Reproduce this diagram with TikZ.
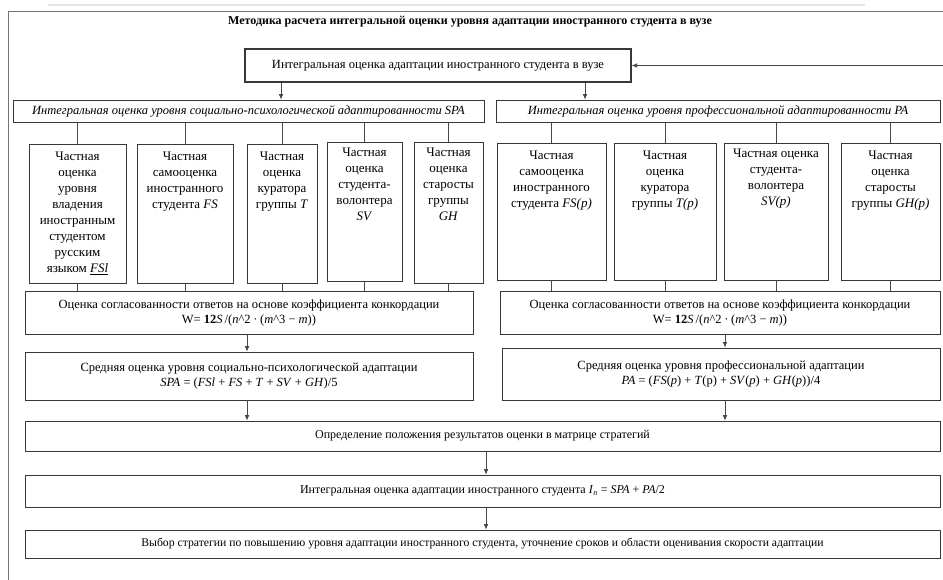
\documentclass[tikz,border=0pt]{standalone}
\usepackage{fontspec}
\setmainfont{Liberation Serif}
\usetikzlibrary{arrows.meta}
\newcommand{\myfs}{\fontsize{12}{15}\selectfont}
\newcommand{\mymid}{\fontsize{12.5}{15}\selectfont}
\newcommand{\mysub}{\fontsize{13}{16}\selectfont}
\begin{document}
\begin{tikzpicture}[x=1pt,y=-1pt,
  bx/.style={draw=black!78, line width=0.7pt, inner sep=0pt, align=center, font=\myfs},
  subtxt/.style={inner sep=0pt, align=center, font=\mysub, anchor=north},
  ln/.style={draw=black!72, line width=0.7pt},
  arr/.style={ln, -{Latex[length=5.5pt,width=4.5pt]}},
  frame/.style={draw=black!55, line width=0.7pt}]
\useasboundingbox (0,0) rectangle (943,580);
\fill[white] (0,0) rectangle (943,580);
\draw[black!10, line width=1.5pt] (48,5) -- (865,5);
\draw[frame] (8,580) -- (8,11) -- (943,11);

\node[font=\bfseries\myfs] (title) at (470,22) {Методика расчета интегральной оценки уровня адаптации иностранного студента в вузе};
\node[bx, minimum width=386, minimum height=33, line width=1.1pt, font=\mymid] (top) at (438,65.5) {Интегральная оценка адаптации иностранного студента в вузе};

\node[bx, minimum width=471, minimum height=22, font=\mymid\itshape] (spa) at (248.5,111) {Интегральная оценка уровня социально-психологической адаптированности SPA};
\node[bx, minimum width=444, minimum height=22, font=\mymid\itshape] (pa) at (718,111) {Интегральная оценка уровня профессиональной адаптированности PA};

% left partial boxes
\node[bx, minimum width=97, minimum height=139] (l1) at (77.5,213.5) {};
\node[bx, minimum width=96, minimum height=139] (l2) at (185,213.5) {};
\node[bx, minimum width=70, minimum height=139] (l3) at (282,213.5) {};
\node[bx, minimum width=75, minimum height=139] (l4) at (364.5,211.5) {};
\node[bx, minimum width=69, minimum height=141] (l5) at (448.5,212.5) {};
\node[subtxt] (l1t) at ([yshift=-8pt]l1.north) {Частная\\оценка\\уровня\\владения\\иностранным\\студентом\\русским\\языком \underline{\textit{FSl}}};
\node[subtxt] (l2t) at ([yshift=-8pt]l2.north) {Частная\\самооценка\\иностранного\\студента \textit{FS}};
\node[subtxt] (l3t) at ([yshift=-8pt]l3.north) {Частная\\оценка\\куратора\\группы \textit{T}};
\node[subtxt] (l4t) at ([yshift=-6pt]l4.north) {Частная\\оценка\\студента-\\волонтера\\\textit{SV}};
\node[subtxt] (l5t) at ([yshift=-6pt]l5.north) {Частная\\оценка\\старосты\\группы\\\textit{GH}};

% right partial boxes
\node[bx, minimum width=109, minimum height=137] (r1) at (551.5,211.5) {};
\node[bx, minimum width=102, minimum height=137] (r2) at (665,211.5) {};
\node[bx, minimum width=104, minimum height=137] (r3) at (776,211.5) {};
\node[bx, minimum width=99, minimum height=137] (r4) at (890.5,211.5) {};
\node[subtxt] (r1t) at ([yshift=-8pt]r1.north) {Частная\\самооценка\\иностранного\\студента \textit{FS(p)}};
\node[subtxt] (r2t) at ([yshift=-8pt]r2.north) {Частная\\оценка\\куратора\\группы \textit{T(p)}};
\node[subtxt] (r3t) at ([yshift=-6pt]r3.north) {Частная оценка\\студента-\\волонтера\\\textit{SV(p)}};
\node[subtxt] (r4t) at ([yshift=-8pt]r4.north) {Частная\\оценка\\старосты\\группы \textit{GH(p)}};

% concordance boxes
\node[bx, minimum width=448, minimum height=43, font=\mymid] (lc) at (249,312.5) {Оценка согласованности ответов на основе коэффициента конкордации\\W= \textbf{12}\textit{S}\,/(\textit{n}\textasciicircum 2 ∙ (\textit{m}\textasciicircum 3 − \textit{m}))};
\node[bx, minimum width=440, minimum height=43, font=\mymid] (rc) at (720,312.5) {Оценка согласованности ответов на основе коэффициента конкордации\\W= \textbf{12}\textit{S}\,/(\textit{n}\textasciicircum 2 ∙ (\textit{m}\textasciicircum 3 − \textit{m}))};

% mean boxes
\node[bx, minimum width=448, minimum height=48, font=\mymid] (lm) at (249,376) {Средняя оценка уровня социально-психологической адаптации\\\textit{SPA} = (\textit{FSl} + \textit{FS} + \textit{T} + \textit{SV} + \textit{GH})/5};
\node[bx, minimum width=438, minimum height=52, line width=0.9pt, font=\mymid] (rm) at (721,374) {Средняя оценка уровня профессиональной адаптации\\\textit{PA} = (\textit{FS}(\textit{p}) + \textit{T}(p) + \textit{SV}(\textit{p}) + \textit{GH}(\textit{p}))/4};

% bottom chain
\node[bx, minimum width=915, minimum height=30] (mat) at (482.5,436) {Определение положения результатов оценки в матрице стратегий};
\node[bx, minimum width=915, minimum height=32] (intg) at (482.5,491) {Интегральная оценка адаптации иностранного студента \textit{I}\textsubscript{\textit{n}} = \textit{SPA} + \textit{PA}/2};
\node[bx, minimum width=915, minimum height=28, font=\fontsize{11.7}{14}\selectfont] (last) at (482.5,544) {Выбор стратегии по повышению уровня адаптации иностранного студента, уточнение сроков и области оценивания скорости адаптации};

% connector x positions
\coordinate (xa) at (281,0);
\coordinate (xb) at (585,0);
\coordinate (xc) at (247,0);
\coordinate (xd) at (725,0);
\coordinate (xe) at (486,0);
\coordinate (fb) at (943,65.5);

\draw[arr] (fb) -- (top.east);
\draw[arr] (top.south -| xa) -- (spa.north -| xa);
\draw[arr] (top.south -| xb) -- (pa.north -| xb);

\foreach \b in {l1,l2,l3,l4,l5} {
  \draw[ln] (\b.north) -- (\b.north |- spa.south);
  \draw[ln] (\b.south) -- (\b.south |- lc.north);
}
\foreach \b in {r1,r2,r3,r4} {
  \draw[ln] (\b.north) -- (\b.north |- pa.south);
  \draw[ln] (\b.south) -- (\b.south |- rc.north);
}

\draw[arr] (lc.south -| xc) -- (lm.north -| xc);
\draw[arr] (rc.south -| xd) -- (rm.north -| xd);
\draw[arr] (lm.south -| xc) -- (mat.north -| xc);
\draw[arr] (rm.south -| xd) -- (mat.north -| xd);
\draw[arr] (mat.south -| xe) -- (intg.north -| xe);
\draw[arr] (intg.south -| xe) -- (last.north -| xe);
\end{tikzpicture}
\end{document}
